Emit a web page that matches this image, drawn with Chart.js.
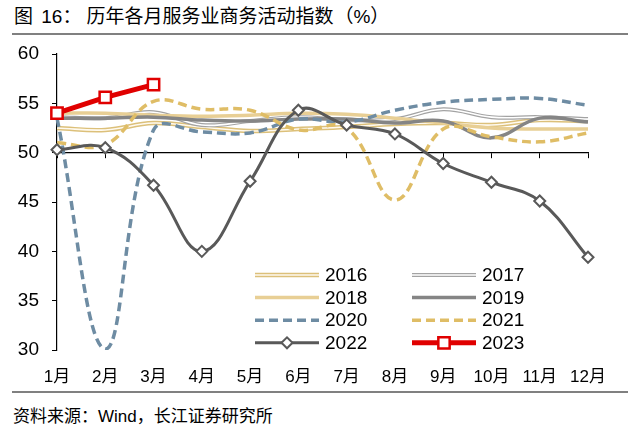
<!DOCTYPE html>
<html>
<head>
<meta charset="utf-8">
<script src="https://cdn.jsdelivr.net/npm/chart.js@4/dist/chart.umd.min.js"></script>
<style>
    body { margin: 0; width: 640px; height: 436px; background: #fff; position: relative; overflow: hidden;
           font-family: "Liberation Sans", "Noto Sans CJK SC", sans-serif; color: #000; }
    #title { position: absolute; left: 14px; top: 6px; font-size: 19px; line-height: 22px; white-space: nowrap; }
    .rule { position: absolute; left: 12px; width: 616px; height: 2px; background: #808080; }
    #box { position: absolute; left: 0; top: 40px; width: 640px; height: 350px; }
    #src { position: absolute; left: 13px; top: 406px; font-size: 17px; line-height: 22px; white-space: nowrap; }
</style>
</head>
<body>
<div id="title"><span style="margin-right:3px">图</span> 16：<span style="margin-left:5px">历年各月服务业商务活动指数</span><span style="margin-left:1px">（%）</span></div>
<div class="rule" style="top:33px"></div>
<div id="box"><canvas id="pmiChart" width="640" height="350"></canvas></div>
<div class="rule" style="top:391px"></div>
<div id="src">资料来源：Wind，长江证券研究所</div>

<script>
const months = ['1月', '2月', '3月', '4月', '5月', '6月', '7月', '8月', '9月', '10月', '11月', '12月'];
const yTicks = [30, 35, 40, 45, 50, 55, 60];

const y2016 = [52.5, 52.3, 53.0, 52.6, 52.2, 52.4, 52.6, 52.9, 53.0, 52.8, 53.3, 53.2];
const y2017 = [53.6, 53.5, 54.1, 52.8, 53.2, 53.6, 53.3, 53.4, 54.4, 53.6, 53.6, 53.4];
const y2018 = [54.0, 54.0, 53.8, 53.7, 53.8, 54.0, 53.9, 53.5, 53.0, 52.5, 52.4, 52.4];
const y2019 = [53.5, 53.5, 53.6, 53.3, 53.2, 53.4, 53.4, 53.0, 53.2, 51.5, 53.5, 53.1];
const y2020 = [53.5, 30.1, 52.3, 52.1, 52.0, 53.4, 53.1, 54.3, 55.1, 55.4, 55.5, 54.8];
const y2021 = [51.0, 50.8, 55.2, 54.4, 54.3, 52.3, 52.5, 45.2, 52.4, 51.6, 51.1, 52.0];
const y2022 = [50.3, 50.5, 46.7, 40.0, 47.1, 54.3, 52.8, 51.9, 48.9, 47.0, 45.1, 39.4];
const y2023 = [54.0, 55.6, 56.9];

const legendOrder = ['2016', '2017', '2018', '2019', '2020', '2021', '2022', '2023'];

const FONT = '"Liberation Sans", "Noto Sans CJK SC", sans-serif';

function line(label, data, color, width, extra) {
    return Object.assign({
        label: label,
        data: data,
        borderColor: color,
        backgroundColor: color,
        borderWidth: width,
        pointRadius: 0,
        pointHoverRadius: 0,
        tension: 0.4,
        fill: false
    }, extra || {});
}

// legend drawn inside the plot, two columns
const cornerLegend = {
    id: 'cornerLegend',
    afterDraw(chart, args, opts) {
        const ctx = chart.ctx;
        const area = chart.chartArea;
        const sets = chart.data.datasets;
        ctx.save();
        legendOrder.forEach((name, i) => {
            const col = i % 2, row = Math.floor(i / 2);
            const x0 = area.left + opts.x + col * opts.colGap;
            const y = area.top + opts.y + row * opts.rowGap;
            const x1 = x0 + opts.lineLen;
            sets.filter(d => d.label === name).forEach(d => {
                ctx.beginPath();
                ctx.setLineDash(d.borderDash || []);
                ctx.lineWidth = d.borderWidth;
                ctx.strokeStyle = d.borderColor;
                ctx.lineCap = 'butt';
                ctx.moveTo(x0, y);
                ctx.lineTo(x1, y);
                ctx.stroke();
                ctx.setLineDash([]);
                if (d.pointRadius > 0) {
                    const cx = (x0 + x1) / 2;
                    const r = d.pointRadius;
                    ctx.beginPath();
                    if (d.pointStyle === 'rectRot') {
                        ctx.moveTo(cx - r, y);
                        ctx.lineTo(cx, y - r);
                        ctx.lineTo(cx + r, y);
                        ctx.lineTo(cx, y + r);
                        ctx.closePath();
                    } else {
                        const s = r * Math.SQRT1_2;
                        ctx.rect(cx - s, y - s, 2 * s, 2 * s);
                    }
                    ctx.fillStyle = d.pointBackgroundColor;
                    ctx.fill();
                    ctx.lineWidth = d.pointBorderWidth;
                    ctx.strokeStyle = d.pointBorderColor;
                    ctx.stroke();
                }
            });
            ctx.fillStyle = '#000';
            ctx.font = opts.font;
            ctx.textBaseline = 'middle';
            ctx.textAlign = 'left';
            ctx.fillText(name, x1 + 6, y + 1);
        });
        ctx.restore();
    }
};

const ctx = document.getElementById('pmiChart').getContext('2d');
new Chart(ctx, {
    type: 'line',
    data: {
        labels: months,
        datasets: [
            line('2016', y2016, '#dcc07a', 4.5, { order: 20 }),
            line('2016', y2016, '#fffaf0', 1.6, { order: 19 }),
            line('2017', y2017, '#a3a3a3', 4, { order: 18 }),
            line('2017', y2017, '#ffffff', 1.6, { order: 17 }),
            line('2018', y2018, '#e8cf95', 3.5, { order: 16 }),
            line('2019', y2019, '#858585', 3.5, { order: 15 }),
            line('2020', y2020, '#6e8ca3', 3.5, { order: 14, borderDash: [9, 5] }),
            line('2021', y2021, '#dfbd66', 3.5, { order: 13, borderDash: [9, 5] }),
            line('2022', y2022, '#595959', 3, {
                order: 12,
                pointRadius: 5.5,
                pointStyle: 'rectRot',
                pointBackgroundColor: '#fff',
                pointBorderColor: '#595959',
                pointBorderWidth: 2
            }),
            line('2023', y2023, '#e00000', 5, {
                order: 11,
                tension: 0,
                pointRadius: 8,
                pointStyle: 'rect',
                pointBackgroundColor: '#fff',
                pointBorderColor: '#e00000',
                pointBorderWidth: 2.5
            })
        ]
    },
    options: {
        responsive: false,
        animation: false,
        events: [],
        layout: { padding: { left: 0, right: 52, top: 14, bottom: 0 } },
        plugins: {
            legend: { display: false },
            tooltip: { enabled: false },
            cornerLegend: {
                x: 198, y: 221, colGap: 157, rowGap: 22.6, lineLen: 64,
                font: '19px ' + FONT
            }
        },
        scales: {
            x: {
                type: 'category',
                offset: false,
                grid: { display: false },
                border: { display: false },
                ticks: { color: '#000', padding: 9, maxRotation: 0, autoSkip: false,
                         font: { family: FONT, size: 17 } },
                afterFit: s => { s.height = 40; s.paddingLeft = 0; s.paddingRight = 0; }
            },
            xAxis50: {
                axis: 'x',
                type: 'category',
                labels: months,
                offset: false,
                position: { y: 50 },
                grid: { drawOnChartArea: false, drawTicks: true, tickLength: 5, color: '#000', lineWidth: 1 },
                border: { display: true, color: '#000', width: 1.2 },
                ticks: { display: false }
            },
            y: {
                min: 30,
                max: 60,
                afterBuildTicks: s => { s.ticks = yTicks.map(v => ({ value: v })); },
                grid: { drawOnChartArea: false, drawTicks: true, tickLength: 5, color: '#000', lineWidth: 1 },
                border: { display: true, color: '#000', width: 1.2 },
                ticks: { color: '#000', padding: 13, font: { family: FONT, size: 19 } },
                afterFit: s => { s.width = 57; s.paddingTop = 0; s.paddingBottom = 0; }
            }
        }
    },
    plugins: [cornerLegend]
});
</script>
</body>
</html>
